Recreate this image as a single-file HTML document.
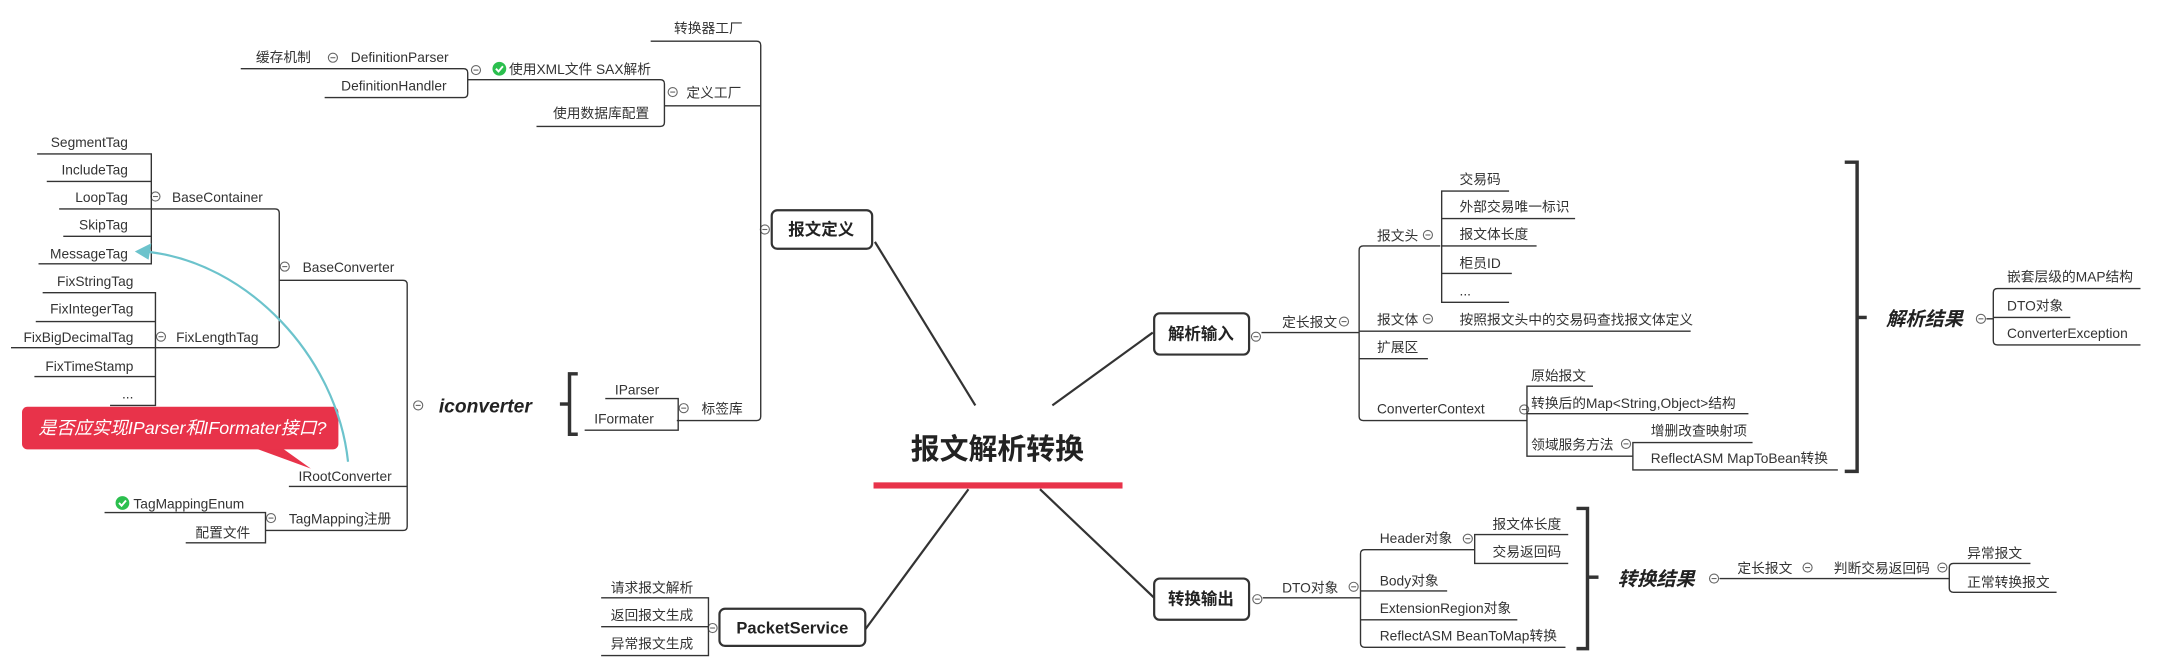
<!DOCTYPE html>
<html><head><meta charset="utf-8"><style>
html,body{margin:0;padding:0;background:#fff;overflow:hidden}
svg{display:block}
text{font-family:"Liberation Sans","Noto Sans CJK SC",sans-serif;font-size:10px;fill:#333}
.b{font-weight:bold;font-size:12px;fill:#222}
.bi{font-weight:bold;font-style:italic;font-size:14px;fill:#222}
.l{stroke:#333;stroke-width:1;fill:none}
.m{stroke:#333;stroke-width:1.6;fill:none}
.bx{stroke:#333;stroke-width:1.6;fill:#fff}
.c{fill:#fff;stroke:#666;stroke-width:0.8}
</style></head><body>
<svg width="2157" height="672" viewBox="0 0 1568 489" preserveAspectRatio="none" xmlns="http://www.w3.org/2000/svg">
<defs>
<g id="mn"><circle class="c" cx="0" cy="0" r="3.3"/><line x1="-1.8" y1="0" x2="1.8" y2="0" stroke="#666" stroke-width="0.8"/></g>
<g id="ok"><circle cx="0" cy="0" r="5" fill="#2bbf4e"/><path d="M-2.5,0 L-0.6,2 L2.6,-1.8" stroke="#fff" stroke-width="1.4" fill="none"/></g>
</defs>

<!-- main connectors -->
<path class="m" d="M709,295 L636,176"/>
<path class="m" d="M765,295 L838,242"/>
<path class="m" d="M704,356 L629,458"/>
<path class="m" d="M756,356 L839,435"/>
<rect x="635" y="351" width="181" height="4.5" fill="#e8334a"/>
<text x="725" y="334" text-anchor="middle" style="font-weight:bold;font-size:21px;fill:#222">报文解析转换</text>

<!-- 报文定义 -->
<rect class="bx" x="561" y="153" width="73" height="28" rx="4"/>
<text class="b" x="597" y="171" text-anchor="middle">报文定义</text>
<use href="#mn" x="556" y="167"/>
<path class="l" d="M473,30 L550,30 Q553,30 553,33 L553,303 Q553,306 550,306 L492,306"/>
<path class="l" d="M483,77 L553,77"/>
<text x="490" y="24">转换器工厂</text>
<text x="499" y="71">定义工厂</text>
<use href="#mn" x="489" y="67"/>
<path class="l" d="M340,58 L480,58 Q483,58 483,61 L483,89 Q483,92 480,92 L390,92"/>
<use href="#ok" x="363" y="50"/>
<text x="370" y="54">使用XML文件 SAX解析</text>
<use href="#mn" x="346" y="51"/>
<text x="402" y="86">使用数据库配置</text>
<path class="l" d="M175,50 L337,50 Q340,50 340,53 L340,68 Q340,71 337,71 L236,71"/>
<text x="186" y="45">缓存机制</text>
<use href="#mn" x="242" y="42"/>
<text x="255" y="45">DefinitionParser</text>
<text x="248" y="66">DefinitionHandler</text>

<!-- 标签库 -->
<text x="510" y="301">标签库</text>
<use href="#mn" x="497" y="297"/>
<path class="l" d="M440,290 L493,290 L493,313 L425,313"/>
<text x="447" y="287">IParser</text>
<text x="432" y="308">IFormater</text>
<path d="M420,272 L414,272 L414,316 L420,316" stroke="#333" stroke-width="2.5" fill="none"/>
<line x1="407" y1="294" x2="414" y2="294" stroke="#333" stroke-width="2.5"/>
<text class="bi" x="319" y="300">iconverter</text>
<use href="#mn" x="304" y="295"/>

<!-- iconverter children -->
<path class="l" d="M203,204 L293,204 Q296,204 296,207 L296,383 Q296,386 293,386 L193,386"/>
<path class="l" d="M210,354 L296,354"/>
<text x="220" y="198">BaseConverter</text>
<use href="#mn" x="207" y="194"/>
<text x="217" y="350">IRootConverter</text>
<text x="210" y="381">TagMapping注册</text>
<use href="#mn" x="197" y="377"/>

<path class="l" d="M110,152 L200,152 Q203,152 203,155 L203,250 Q203,253 200,253 L113,253"/>
<text x="125" y="147">BaseContainer</text>
<use href="#mn" x="113" y="143"/>
<text x="128" y="249">FixLengthTag</text>
<use href="#mn" x="117" y="245"/>

<path class="l" d="M27,112 L110,112 L110,192 L28,192 M34,132 L110,132 M43,152 L110,152 M46,172 L110,172"/>
<text x="93" y="107" text-anchor="end">SegmentTag</text>
<text x="93" y="127" text-anchor="end">IncludeTag</text>
<text x="93" y="147" text-anchor="end">LoopTag</text>
<text x="93" y="167" text-anchor="end">SkipTag</text>
<text x="93" y="188" text-anchor="end">MessageTag</text>

<path class="l" d="M31,213 L113,213 L113,295 L80,295 M26,234 L113,234 M8,253 L113,253 M25,274 L113,274"/>
<text x="97" y="208" text-anchor="end">FixStringTag</text>
<text x="97" y="228" text-anchor="end">FixIntegerTag</text>
<text x="97" y="249" text-anchor="end">FixBigDecimalTag</text>
<text x="97" y="270" text-anchor="end">FixTimeStamp</text>
<text x="97" y="290" text-anchor="end">...</text>

<path class="l" d="M76,373 L193,373 L193,395 L135,395"/>
<use href="#ok" x="89" y="366"/>
<text x="97" y="370">TagMappingEnum</text>
<text x="142" y="391">配置文件</text>

<!-- callout -->
<path d="M185,326 L226,341 L205,326 Z" fill="#e8334a"/>
<rect x="16" y="296" width="230" height="31" rx="4" fill="#e8334a"/>
<text x="28" y="316" style="fill:#fff;font-style:italic;font-size:13px">是否应实现IParser和IFormater接口?</text>
<path d="M253,336 C245,260 180,190 105,183" stroke="#6cc3cc" stroke-width="1.6" fill="none"/>
<path d="M98,183 L110,177 L108,189 Z" fill="#6cc3cc"/>

<!-- PacketService -->
<rect class="bx" x="523" y="443" width="106" height="27" rx="4"/>
<text class="b" x="576" y="461" text-anchor="middle">PacketService</text>
<use href="#mn" x="518" y="457"/>
<path class="l" d="M437,435 L515,435 L515,477 L437,477 M437,456 L515,456"/>
<text x="444" y="431">请求报文解析</text>
<text x="444" y="451">返回报文生成</text>
<text x="444" y="472">异常报文生成</text>

<!-- 解析输入 -->
<rect class="bx" x="839" y="228" width="69" height="30" rx="4"/>
<text class="b" x="873" y="247" text-anchor="middle">解析输入</text>
<use href="#mn" x="913" y="245"/>
<path class="l" d="M917,242 L988,242"/>
<text x="932" y="238">定长报文</text>
<use href="#mn" x="977" y="234"/>
<path class="l" d="M1047,179 L991,179 Q988,179 988,182 L988,303 Q988,306 991,306 L1110,306 M988,241 L1229,241 M988,261 L1038,261"/>
<text x="1001" y="175">报文头</text>
<use href="#mn" x="1038" y="171"/>
<text x="1001" y="236">报文体</text>
<use href="#mn" x="1038" y="232"/>
<text x="1061" y="236">按照报文头中的交易码查找报文体定义</text>
<text x="1001" y="256">扩展区</text>
<text x="1001" y="301">ConverterContext</text>
<use href="#mn" x="1108" y="298"/>

<path class="l" d="M1097,139 L1048,139 L1048,220 L1097,220 M1048,159 L1145,159 M1048,179 L1117,179 M1048,199 L1099,199"/>
<text x="1061" y="134">交易码</text>
<text x="1061" y="154">外部交易唯一标识</text>
<text x="1061" y="174">报文体长度</text>
<text x="1061" y="195">柜员ID</text>
<text x="1061" y="215">...</text>

<path class="l" d="M1158,281 L1110,281 L1110,332 L1187,332 M1110,301 L1271,301"/>
<text x="1113" y="277">原始报文</text>
<text x="1113" y="297">转换后的Map&lt;String,Object&gt;结构</text>
<text x="1113" y="327">领域服务方法</text>
<use href="#mn" x="1182" y="323"/>
<path class="l" d="M1274,322 L1187,322 L1187,342 L1336,342"/>
<text x="1200" y="317">增删改查映射项</text>
<text x="1200" y="337">ReflectASM MapToBean转换</text>

<path d="M1341,118 L1350,118 L1350,343 L1341,343" stroke="#333" stroke-width="2.5" fill="none"/>
<line x1="1350" y1="231" x2="1357" y2="231" stroke="#333" stroke-width="2.5"/>
<text class="bi" x="1371" y="237">解析结果</text>
<use href="#mn" x="1440" y="232"/>
<path class="l" d="M1444,232 L1449,232 M1556,210 L1452,210 Q1449,210 1449,213 L1449,248 Q1449,251 1452,251 L1556,251 M1449,231 L1505,231"/>
<text x="1459" y="205">嵌套层级的MAP结构</text>
<text x="1459" y="226">DTO对象</text>
<text x="1459" y="246">ConverterException</text>

<!-- 转换输出 -->
<rect class="bx" x="839" y="421" width="69" height="30" rx="4"/>
<text class="b" x="873" y="440" text-anchor="middle">转换输出</text>
<use href="#mn" x="914" y="436"/>
<path class="l" d="M918,435 L989,435"/>
<text x="932" y="431">DTO对象</text>
<use href="#mn" x="984" y="427"/>
<path class="l" d="M1072,400 L992,400 Q989,400 989,403 L989,468 Q989,471 992,471 L1138,471 M989,430 L1052,430 M989,451 L1103,451"/>
<text x="1003" y="395">Header对象</text>
<use href="#mn" x="1067" y="392"/>
<path class="l" d="M1140,389 L1072,389 L1072,410 L1140,410"/>
<text x="1085" y="385">报文体长度</text>
<text x="1085" y="405">交易返回码</text>
<text x="1003" y="426">Body对象</text>
<text x="1003" y="446">ExtensionRegion对象</text>
<text x="1003" y="466">ReflectASM BeanToMap转换</text>
<path d="M1146,370 L1154,370 L1154,472 L1146,472" stroke="#333" stroke-width="2.5" fill="none"/>
<line x1="1154" y1="420" x2="1162" y2="420" stroke="#333" stroke-width="2.5"/>
<text class="bi" x="1176" y="426">转换结果</text>
<use href="#mn" x="1246" y="421"/>
<path class="l" d="M1250,421 L1417,421"/>
<text x="1263" y="417">定长报文</text>
<use href="#mn" x="1314" y="413"/>
<text x="1333" y="417">判断交易返回码</text>
<use href="#mn" x="1412" y="413"/>
<path class="l" d="M1476,410 L1420,410 Q1417,410 1417,413 L1417,428 Q1417,431 1420,431 L1495,431"/>
<text x="1430" y="406">异常报文</text>
<text x="1430" y="427">正常转换报文</text>
</svg>
</body></html>
